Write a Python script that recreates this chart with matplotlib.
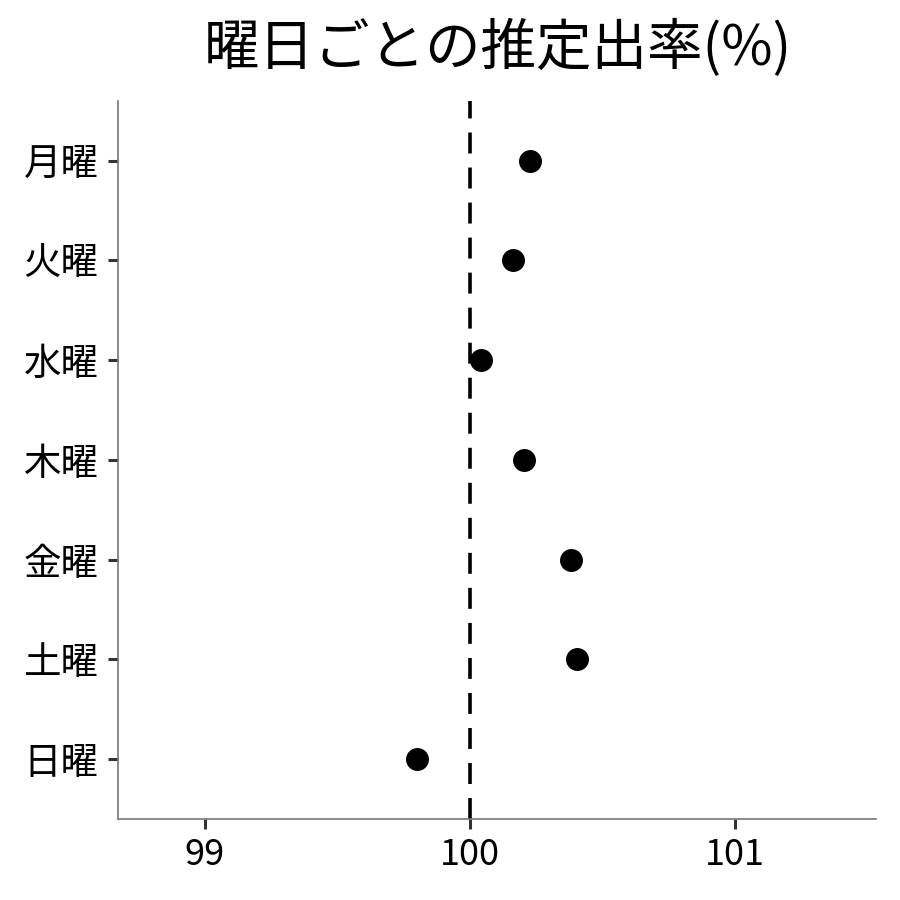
import numpy as np
import matplotlib.pyplot as plt

plt.rcParams['font.family'] = ['Noto Sans CJK JP', 'DejaVu Sans']

days = ['月曜', '火曜', '水曜', '木曜', '金曜', '土曜', '日曜']
rates = [100.226, 100.162, 100.042, 100.204, 100.381, 100.404, 99.800]
xticks = [99, 100, 101]

fig = plt.figure(figsize=(9, 9), dpi=100)
ax = fig.add_axes([0.131, 0.09, 0.842, 0.798])

ypos = np.arange(len(days))[::-1]
ax.axvline(100, color='black', lw=2.6, linestyle=(0, (5.8, 3.9)), zorder=1)
ax.plot(rates, ypos, 'o', color='black', markersize=15.5, zorder=2)

ax.set_xlim(98.672, 101.532)
ax.set_ylim(-0.6, 6.6)
ax.set_xticks(xticks)
ax.set_xticklabels([str(t) for t in xticks])
ax.set_yticks(ypos)
ax.set_yticklabels(days)
ax.tick_params(axis='both', labelsize=26, color='#333333', width=2.2, length=7)
ax.tick_params(axis='y', labelsize=27, pad=7)
ax.tick_params(axis='x', pad=6)

for s in ['top', 'right']:
    ax.spines[s].set_visible(False)
for s in ['left', 'bottom']:
    ax.spines[s].set_color('#777777')
    ax.spines[s].set_linewidth(1.2)

fig.suptitle('曜日ごとの推定出率(%)', fontsize=40, x=0.553, y=0.978, va='top')

fig.savefig('out.png', dpi=100)
